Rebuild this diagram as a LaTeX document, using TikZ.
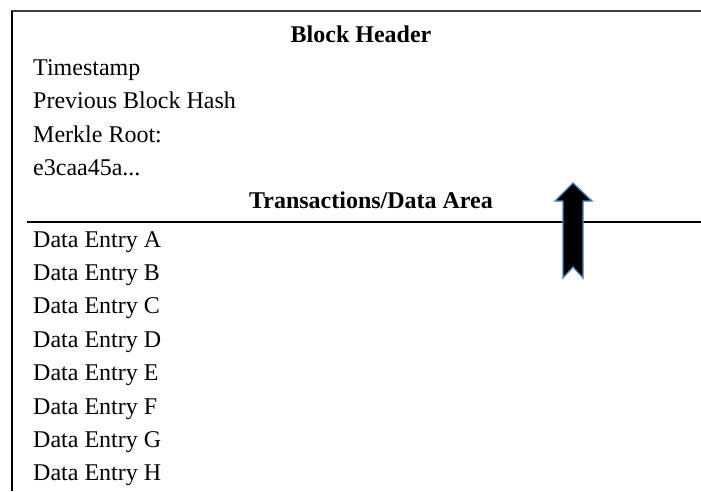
\documentclass[tikz,border=0pt]{standalone}
\usepackage{fontspec}
\setmainfont{Liberation Serif}
\usepackage{xcolor}
\usepackage{tikz}
\definecolor{arrowedge}{RGB}{79,129,189}
\definecolor{rulegray}{RGB}{64,64,64}

\begin{document}
\begin{tikzpicture}[x=1pt,y=-1pt,
    font=\fontsize{24}{28}\selectfont,
    field/.style={anchor=base west,inner sep=0pt},
    title/.style={anchor=base,inner sep=0pt,font=\fontsize{24}{28}\selectfont\bfseries}]
    \useasboundingbox (0,0) rectangle (701,491);

    % Block frame
    \draw[rulegray,line width=1.8pt] (11,11) -- (701,11);
    \draw[line width=1.2pt] (12,11) -- (12,491);

    % Header fields
    \node[title] (header) at (361,42) {Block Header};
    \node[field] (time) at (33,75) {Timestamp};
    \node[field] (prev) at (33,108.5) {Previous Block Hash};
    \node[field] (merkle) at (33,142) {Merkle Root:};
    \node[field] (root) at (33,175) {e3caa45a...};

    % Data area
    \node[title] (data) at (371,208) {Transactions/Data Area};
    \draw[line width=1.6pt] (27,222) -- (701,222);
    \foreach \e [count=\i from 0] in {A,B,C,D,E,F,G,H}
        \node[field] (entry\e) at (33,247+33.4*\i) {Data Entry \e};

    % Arrow
    \draw[arrowedge,line width=1.3pt,fill=black,line join=miter]
        (573,183) -- (592,201) -- (583,201) -- (583,278) -- (573,267)
        -- (563,278) -- (563,201) -- (555,201) -- cycle;
\end{tikzpicture}
\end{document}
